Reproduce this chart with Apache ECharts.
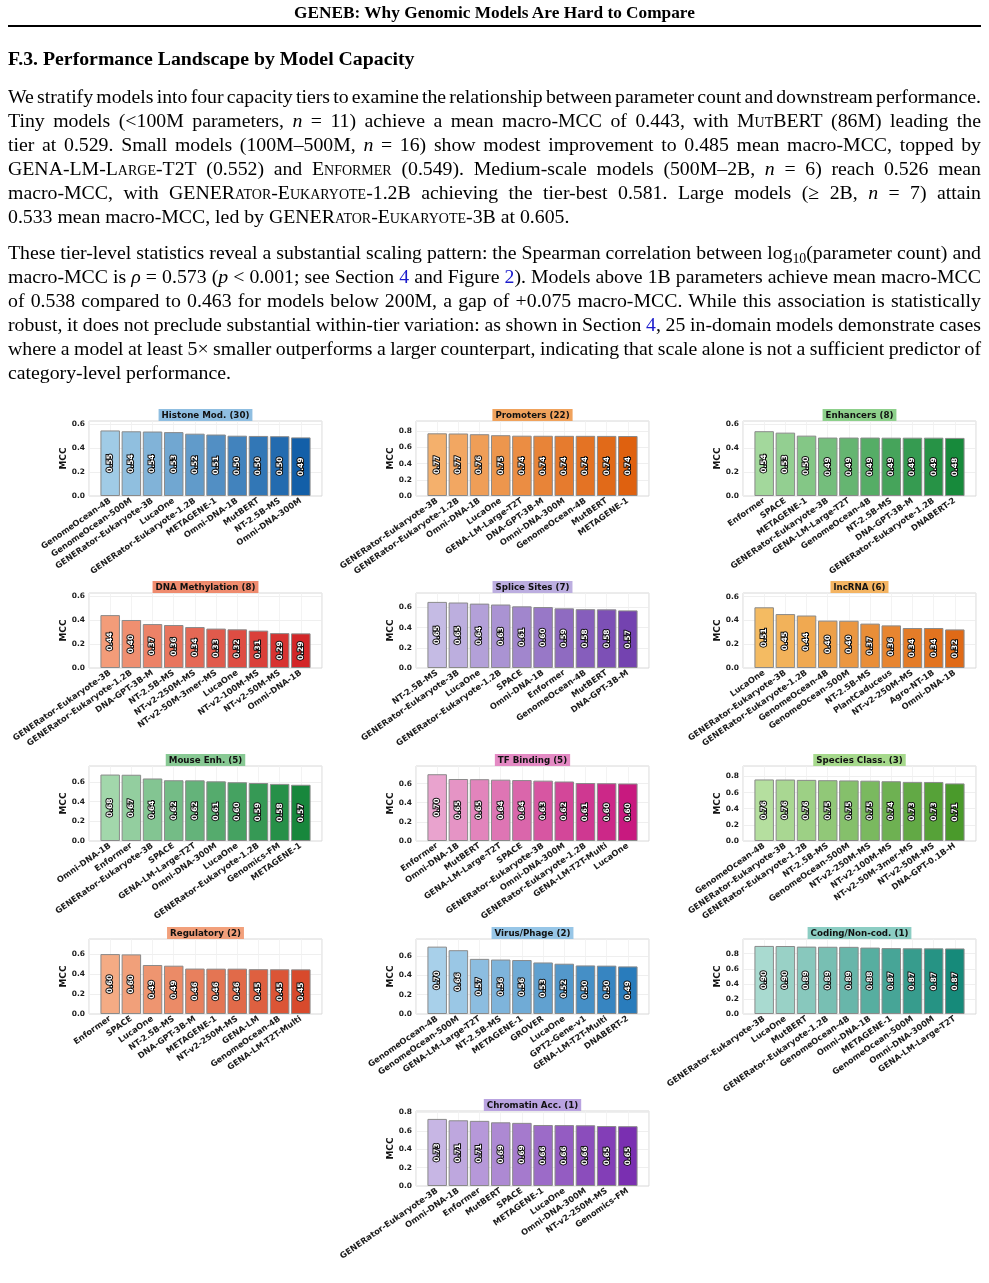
<!DOCTYPE html>
<html>
<head>
<meta charset="utf-8">
<script src="https://cdn.jsdelivr.net/npm/echarts@6/dist/echarts.min.js"></script>
<style>
html,body{margin:0;padding:0;background:#fff;}
#page{position:relative;width:989px;height:1283px;overflow:hidden;background:#fff;}
#chart{position:absolute;left:0;top:0;width:989px;height:1283px;}
.t{position:absolute;font-family:"Liberation Serif","DejaVu Serif",serif;color:#000;}
.ln{left:8px;width:973px;height:24px;line-height:24px;font-size:19.8px;text-align:justify;text-align-last:justify;white-space:nowrap;}
.ln.last{text-align-last:left;}
.sc{font-variant:small-caps;}
i{font-style:italic;}
sub{font-size:0.7em;line-height:0;vertical-align:-0.3em;}
a{color:#1a1acc;text-decoration:none;}
</style>
</head>
<body>
<div id="page">
<div id="chart"></div>
<div class="t" style="left:0;width:989px;top:3px;text-align:center;font-weight:bold;font-size:17.3px;">GENEB: Why Genomic Models Are Hard to Compare</div>
<div style="position:absolute;left:8px;width:973px;top:25px;height:2px;background:#000;"></div>
<div class="t" style="left:8px;top:47px;font-weight:bold;font-size:19.8px;">F.3. Performance Landscape by Model Capacity</div>

<div class="t ln" style="top:84px;">We stratify models into four capacity tiers to examine the relationship between parameter count and downstream performance.</div>
<div class="t ln" style="top:108px;">Tiny models (&lt;100M parameters, <i>n</i> = 11) achieve a mean macro-MCC of 0.443, with <span class="sc">MutBERT</span> (86M) leading the</div>
<div class="t ln" style="top:132px;">tier at 0.529. Small models (100M–500M, <i>n</i> = 16) show modest improvement to 0.485 mean macro-MCC, topped by</div>
<div class="t ln" style="top:156px;"><span class="sc">GENA-LM-Large-T2T</span> (0.552) and <span class="sc">Enformer</span> (0.549). Medium-scale models (500M–2B, <i>n</i> = 6) reach 0.526 mean</div>
<div class="t ln" style="top:180px;">macro-MCC, with <span class="sc">GENERator-Eukaryote-1.2B</span> achieving the tier-best 0.581. Large models (≥ 2B, <i>n</i> = 7) attain</div>
<div class="t ln last" style="top:204px;">0.533 mean macro-MCC, led by <span class="sc">GENERator-Eukaryote-3B</span> at 0.605.</div>

<div class="t ln" style="top:240px;">These tier-level statistics reveal a substantial scaling pattern: the Spearman correlation between log<sub>10</sub>(parameter count) and</div>
<div class="t ln" style="top:264px;">macro-MCC is <i>ρ</i> = 0.573 (<i>p</i> &lt; 0.001; see Section <a>4</a> and Figure <a>2</a>). Models above 1B parameters achieve mean macro-MCC</div>
<div class="t ln" style="top:288px;">of 0.538 compared to 0.463 for models below 200M, a gap of +0.075 macro-MCC. While this association is statistically</div>
<div class="t ln" style="top:312px;">robust, it does not preclude substantial within-tier variation: as shown in Section <a>4</a>, 25 in-domain models demonstrate cases</div>
<div class="t ln" style="top:336px;">where a model at least 5× smaller outperforms a larger counterpart, indicating that scale alone is not a sufficient predictor of</div>
<div class="t ln last" style="top:360px;">category-level performance.</div>
</div>

<script>
// --- data: top-10 models per task category (MCC) ---
const histoneNames = ['GenomeOcean-4B','GenomeOcean-500M','GENERator-Eukaryote-3B','LucaOne','GENERator-Eukaryote-1.2B','METAGENE-1','Omni-DNA-1B','MutBERT','NT-2.5B-MS','Omni-DNA-300M'];
const histoneMCC = [0.548,0.541,0.539,0.534,0.521,0.514,0.504,0.502,0.500,0.490];

const promoterNames = ['GENERator-Eukaryote-3B','GENERator-Eukaryote-1.2B','Omni-DNA-1B','LucaOne','GENA-LM-Large-T2T','DNA-GPT-3B-M','Omni-DNA-300M','GenomeOcean-4B','MutBERT','METAGENE-1'];
const promoterMCC = [0.773,0.771,0.762,0.750,0.744,0.743,0.742,0.742,0.741,0.740];

const enhancerNames = ['Enformer','SPACE','METAGENE-1','GENERator-Eukaryote-3B','GENA-LM-Large-T2T','GenomeOcean-4B','NT-2.5B-MS','DNA-GPT-3B-M','GENERator-Eukaryote-1.2B','DNABERT-2'];
const enhancerMCC = [0.540,0.528,0.503,0.487,0.487,0.487,0.486,0.486,0.486,0.484];

const methylNames = ['GENERator-Eukaryote-3B','GENERator-Eukaryote-1.2B','DNA-GPT-3B-M','NT-2.5B-MS','NT-v2-250M-MS','NT-v2-50M-3mer-MS','LucaOne','NT-v2-100M-MS','NT-v2-50M-MS','Omni-DNA-1B'];
const methylMCC = [0.443,0.402,0.368,0.360,0.343,0.330,0.324,0.313,0.292,0.290];

const spliceNames = ['NT-2.5B-MS','GENERator-Eukaryote-3B','LucaOne','GENERator-Eukaryote-1.2B','SPACE','Omni-DNA-1B','Enformer','GenomeOcean-4B','MutBERT','DNA-GPT-3B-M'];
const spliceMCC = [0.654,0.648,0.637,0.628,0.610,0.603,0.590,0.582,0.580,0.570];

const lncNames = ['LucaOne','GENERator-Eukaryote-3B','GENERator-Eukaryote-1.2B','GenomeOcean-4B','GenomeOcean-500M','NT-2.5B-MS','PlantCaduceus','NT-v2-250M-MS','Agro-NT-1B','Omni-DNA-1B'];
const lncMCC = [0.510,0.453,0.441,0.398,0.397,0.373,0.358,0.336,0.336,0.324];

const mouseNames = ['Omni-DNA-1B','Enformer','GENERator-Eukaryote-3B','SPACE','GENA-LM-Large-T2T','Omni-DNA-300M','LucaOne','GENERator-Eukaryote-1.2B','Genomics-FM','METAGENE-1'];
const mouseMCC = [0.676,0.674,0.636,0.618,0.617,0.607,0.598,0.590,0.581,0.572];

const tfNames = ['Enformer','Omni-DNA-1B','MutBERT','GENA-LM-Large-T2T','SPACE','GENERator-Eukaryote-3B','Omni-DNA-300M','GENERator-Eukaryote-1.2B','GENA-LM-T2T-Multi','LucaOne'];
const tfMCC = [0.698,0.648,0.646,0.641,0.637,0.631,0.622,0.606,0.604,0.601];

const speciesNames = ['GenomeOcean-4B','GENERator-Eukaryote-3B','GENERator-Eukaryote-1.2B','NT-2.5B-MS','GenomeOcean-500M','NT-v2-250M-MS','NT-v2-100M-MS','NT-v2-50M-3mer-MS','NT-v2-50M-MS','DNA-GPT-0.1B-H'];
const speciesMCC = [0.763,0.762,0.758,0.754,0.751,0.748,0.741,0.733,0.732,0.714];

const regulatoryNames = ['Enformer','SPACE','LucaOne','NT-2.5B-MS','DNA-GPT-3B-M','METAGENE-1','NT-v2-250M-MS','GENA-LM','GenomeOcean-4B','GENA-LM-T2T-Multi'];
const regulatoryMCC = [0.604,0.601,0.494,0.487,0.458,0.457,0.457,0.452,0.451,0.450];

const virusNames = ['GenomeOcean-4B','GenomeOcean-500M','GENA-LM-Large-T2T','NT-2.5B-MS','METAGENE-1','GROVER','LucaOne','GPT2-Gene-v1','GENA-LM-T2T-Multi','DNABERT-2'];
const virusMCC = [0.698,0.661,0.571,0.564,0.559,0.534,0.521,0.503,0.501,0.493];

const codingNames = ['GENERator-Eukaryote-3B','LucaOne','MutBERT','GENERator-Eukaryote-1.2B','GenomeOcean-4B','Omni-DNA-1B','METAGENE-1','GenomeOcean-500M','Omni-DNA-300M','GENA-LM-Large-T2T'];
const codingMCC = [0.903,0.902,0.894,0.892,0.891,0.881,0.874,0.872,0.871,0.870];

const chromatinNames = ['GENERator-Eukaryote-3B','Omni-DNA-1B','Enformer','MutBERT','SPACE','METAGENE-1','LucaOne','Omni-DNA-300M','NT-v2-250M-MS','Genomics-FM'];
const chromatinMCC = [0.729,0.714,0.708,0.692,0.686,0.663,0.662,0.660,0.652,0.650];

const yTicks = [0, 0.2, 0.4, 0.6, 0.8];

// panel layout + look
const colX = [89, 416, 743];
const rowY = [421, 593, 766, 939, 1111];
const plotW = 233, plotH = 75;
const FONT = 'DejaVu Sans';

const panels = [
  {title:'Histone Mod. (30)', names:histoneNames, vals:histoneMCC, ymax:0.627, row:0, col:0, c0:'#a0cbe6', c1:'#135fa8', head:'#8fbee1'},
  {title:'Promoters (22)', names:promoterNames, vals:promoterMCC, ymax:0.925, row:0, col:1, c0:'#f4b06c', c1:'#df610f', head:'#f0a25c'},
  {title:'Enhancers (8)', names:enhancerNames, vals:enhancerMCC, ymax:0.625, row:0, col:2, c0:'#a3d89c', c1:'#178a3b', head:'#8dd08b'},
  {title:'DNA Methylation (8)', names:methylNames, vals:methylMCC, ymax:0.628, row:1, col:0, c0:'#f39c79', c1:'#d32628', head:'#ef8b6e'},
  {title:'Splice Sites (7)', names:spliceNames, vals:spliceMCC, ymax:0.742, row:1, col:1, c0:'#c5bbe4', c1:'#7443b0', head:'#bcaee0'},
  {title:'lncRNA (6)', names:lncNames, vals:lncMCC, ymax:0.63, row:1, col:2, c0:'#f4bb62', c1:'#e06a17', head:'#f4b462'},
  {title:'Mouse Enh. (5)', names:mouseNames, vals:mouseMCC, ymax:0.763, row:2, col:0, c0:'#a2d7ab', c1:'#17873c', head:'#88c994'},
  {title:'TF Binding (5)', names:tfNames, vals:tfMCC, ymax:0.784, row:2, col:1, c0:'#e9a3ce', c1:'#c8197f', head:'#e48ac4'},
  {title:'Species Class. (3)', names:speciesNames, vals:speciesMCC, ymax:0.93, row:2, col:2, c0:'#b5df9f', c1:'#4a9a2b', head:'#a6d98c'},
  {title:'Regulatory (2)', names:regulatoryNames, vals:regulatoryMCC, ymax:0.756, row:3, col:0, c0:'#f4ab84', c1:'#d84a2c', head:'#f2a07b'},
  {title:'Virus/Phage (2)', names:virusNames, vals:virusMCC, ymax:0.777, row:3, col:1, c0:'#a8d0ea', c1:'#297cbc', head:'#97c6e7'},
  {title:'Coding/Non-cod. (1)', names:codingNames, vals:codingMCC, ymax:0.995, row:3, col:2, c0:'#a9dad0', c1:'#168a7a', head:'#8ccdc3'},
  {title:'Chromatin Acc. (1)', names:chromatinNames, vals:chromatinMCC, ymax:0.815, row:4, col:1, c0:'#c7b6e4', c1:'#7a2fb1', head:'#b9a3e0'}
];

function hex2rgb(h){ return [1,3,5].map(i => parseInt(h.slice(i, i + 2), 16)); }
function mix(a, b, t){
  const A = hex2rgb(a), B = hex2rgb(b);
  return 'rgb(' + A.map((v, i) => Math.round(v + (B[i] - v) * t)).join(',') + ')';
}

// squeeze paragraph lines that are naturally wider than the column (LaTeX-like shrink)
document.querySelectorAll('.ln').forEach(el => {
  const full = 973;
  el.style.width = 'auto';
  const w = el.getBoundingClientRect().width;
  el.style.width = full + 'px';
  if (w > full) {
    const spaces = (el.textContent.match(/ /g) || []).length || 1;
    el.style.wordSpacing = ((full - w) / spaces - 0.2).toFixed(2) + 'px';
  }
});

const grid = [], xAxis = [], yAxis = [], series = [], titles = [];
panels.forEach((p, i) => {
  const left = colX[p.col], top = rowY[p.row];
  grid.push({left: left, top: top, width: plotW, height: plotH, show: true,
    borderColor: '#d9d9d9', borderWidth: 1, backgroundColor: '#fff'});
  xAxis.push({gridIndex: i, type: 'value', min: -1, max: 10, interval: 1,
    axisLine: {show: false}, axisTick: {show: false},
    splitLine: {show: true, lineStyle: {color: '#f0f0f0', width: 0.8}},
    axisLabel: {rotate: 35, margin: 4, fontSize: 8.3, fontWeight: 'bold', color: '#1a1a1a', fontFamily: FONT,
      formatter: v => { const k = Math.round(v); return (k >= 0 && k < p.names.length) ? p.names[k] : ''; }}});
  yAxis.push({gridIndex: i, type: 'value', min: 0, max: p.ymax, interval: 0.2,
    name: 'MCC', nameLocation: 'middle', nameGap: 16,
    nameTextStyle: {fontSize: 9, fontWeight: 'bold', color: '#111', fontFamily: FONT},
    axisLine: {show: false}, axisTick: {show: false},
    splitLine: {lineStyle: {color: '#ebebeb', width: 0.8}},
    axisLabel: {fontSize: 7.5, fontWeight: 'bold', color: '#1a1a1a', margin: 4, fontFamily: FONT, showMaxLabel: false,
      formatter: v => (yTicks.some(t => Math.abs(t - v) < 1e-6) ? v.toFixed(1) : '')}});
  series.push({type: 'bar', xAxisIndex: i, yAxisIndex: i, barWidth: 19.5,
    data: p.vals.map((v, k) => ({value: [k, v], itemStyle: {color: mix(p.c0, p.c1, k / 9)}})),
    itemStyle: {borderColor: '#8a8a8a', borderWidth: 1},
    label: {show: true, position: 'inside', rotate: 90, fontSize: 7.5, fontWeight: 'bold', fontFamily: FONT,
      color: '#fff', textBorderColor: '#111', textBorderWidth: 2,
      formatter: q => q.value[1].toFixed(2)}});
  titles.push({type: 'text', x: left + plotW / 2, y: top - 12, z: 10,
    style: {text: p.title, fontSize: 8.7, fontWeight: 'bold', fontFamily: FONT, fill: '#111',
      align: 'center', verticalAlign: 'top', lineHeight: 9,
      backgroundColor: p.head, padding: [2, 3, 1, 3]}});
});

const chart = echarts.init(document.getElementById('chart'));
chart.setOption({
  animation: false,
  grid: grid, xAxis: xAxis, yAxis: yAxis, series: series,
  graphic: {elements: titles}
});
</script>
</body>
</html>
